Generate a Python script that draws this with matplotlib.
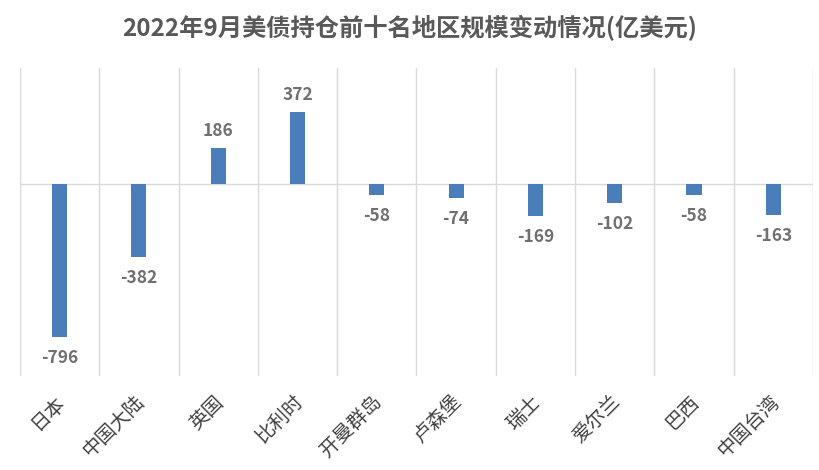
import matplotlib
matplotlib.use("Agg")
import matplotlib.pyplot as plt
from matplotlib.transforms import ScaledTranslation

plt.rcParams['font.family'] = ['Noto Sans CJK SC', 'DejaVu Sans']

categories = ["日本", "中国大陆", "英国", "比利时", "开曼群岛", "卢森堡", "瑞士", "爱尔兰", "巴西", "中国台湾"]
values = [-796, -382, 186, 372, -58, -74, -169, -102, -58, -163]
title = "2022年9月美债持仓前十名地区规模变动情况(亿美元)"

fig = plt.figure(figsize=(8.2, 4.7), dpi=100)
ax = fig.add_axes([0.0244, 0.2, 0.967, 0.655])

x = list(range(len(categories)))
ax.bar(x, values, width=0.19, color="#4A7EBB", zorder=3)

ax.set_xlim(-0.5, len(categories) - 0.5)
ax.set_ylim(-1000, 600)

for xi, v in zip(x, values):
    off = 19 if v >= 0 else -19
    ax.annotate(f"{v}", (xi, v), xytext=(0, off), textcoords="offset pixels",
                ha="center", va="center_baseline", fontsize=12.5, fontweight="bold", color="#707070")

# vertical category separators
for b in range(len(categories) + 1):
    ax.axvline(b - 0.5, color="#D9D9D9", lw=1, zorder=1)
ax.axhline(0, color="#D9D9D9", lw=1, zorder=2)

for s in ax.spines.values():
    s.set_visible(False)
ax.set_yticks([])
ax.set_xticks(x)
ax.set_xticklabels(categories, rotation=45, ha="right", va="top", rotation_mode="anchor",
                   fontsize=14, color="#404040")
ax.tick_params(axis="x", length=0, pad=11)
for lab in ax.get_xticklabels():
    lab.set_transform(lab.get_transform() + ScaledTranslation(-0.05, 0.0, fig.dpi_scale_trans))

fig.text(0.5, 0.94, title, ha="center", va="center", fontsize=17.5, fontweight="bold", color="#595959")

fig.savefig("out.png", dpi=100, facecolor="white")
